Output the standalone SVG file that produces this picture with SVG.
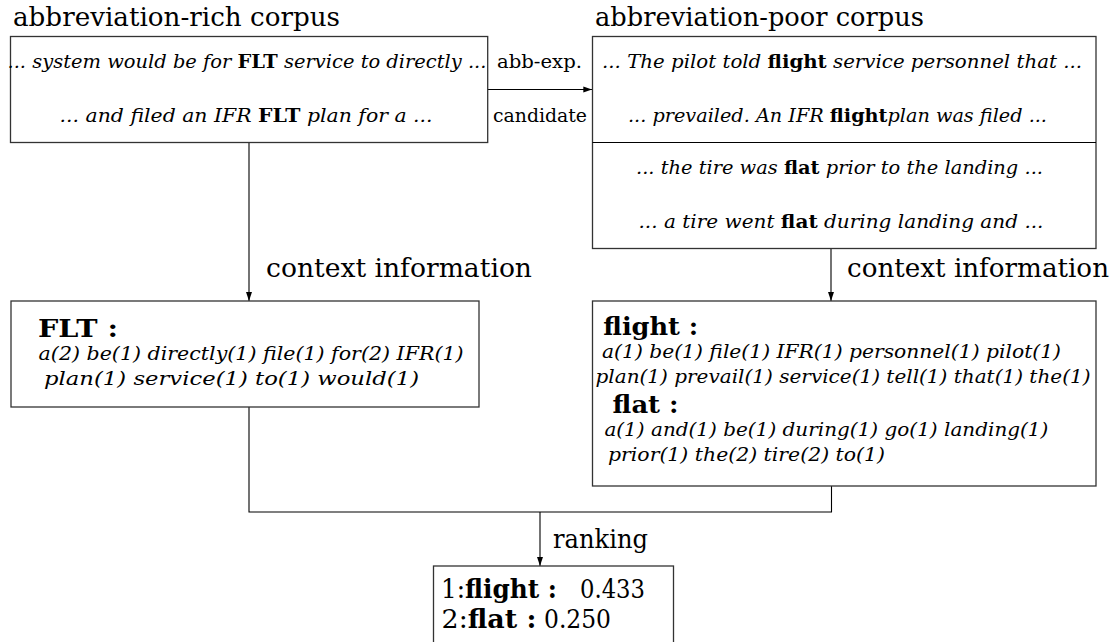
<svg xmlns="http://www.w3.org/2000/svg" width="1117" height="642" viewBox="0 0 1117 642">
<style>
.box{fill:#fff;stroke:#333;stroke-width:1.3}
.conn{fill:none;stroke:#000;stroke-width:1.1}
.t{font-family:"DejaVu Serif","Liberation Serif","Noto Serif",serif;fill:#000}
.lbl{font-size:26px}
.sm{font-size:19px}
.it{font-size:19px;font-style:italic}
.b{font-weight:bold;font-style:normal}
.hd{font-size:25px;font-weight:bold}
.rs{font-size:26px}
</style>
<defs>
<marker id="ah" viewBox="0 0 10 10" refX="10" refY="5" markerWidth="9" markerHeight="9" markerUnits="userSpaceOnUse" orient="auto">
<path d="M0,1.7 L10,5 L0,8.3 z" fill="#000"/>
</marker>
</defs>

<g id="connectors">
<line class="conn" x1="487.7" y1="89.5" x2="592.3" y2="89.5" marker-end="url(#ah)"/>
<line class="conn" x1="249" y1="142.5" x2="249" y2="301" marker-end="url(#ah)"/>
<line class="conn" x1="831" y1="248.5" x2="831" y2="301" marker-end="url(#ah)"/>
<path class="conn" d="M249,407 V512 H831.5 V486"/>
<line class="conn" x1="540" y1="512" x2="540" y2="566" marker-end="url(#ah)"/>
<text class="t sm" x="497" y="68" textLength="85" lengthAdjust="spacingAndGlyphs">abb-exp.</text>
<text class="t sm" x="493" y="122" textLength="94" lengthAdjust="spacingAndGlyphs">candidate</text>
<text class="t lbl" x="266" y="277" textLength="266" lengthAdjust="spacingAndGlyphs">context information</text>
<text class="t lbl" x="847" y="277" textLength="262" lengthAdjust="spacingAndGlyphs">context information</text>
<text class="t lbl" x="553" y="548" textLength="95" lengthAdjust="spacingAndGlyphs">ranking</text>
</g>

<g id="rich-corpus">
<text class="t lbl" x="13" y="26" textLength="327" lengthAdjust="spacingAndGlyphs">abbreviation-rich corpus</text>
<rect class="box" x="10.5" y="36.5" width="477.2" height="106"/>
<text class="t it" x="7.5" y="68" textLength="479" lengthAdjust="spacingAndGlyphs">... system would be for <tspan class="b">FLT</tspan> service to directly ...</text>
<text class="t it" x="59.6" y="122" textLength="373" lengthAdjust="spacingAndGlyphs">... and filed an IFR <tspan class="b">FLT</tspan> plan for a ...</text>
</g>

<g id="poor-corpus">
<text class="t lbl" x="595" y="26" textLength="329" lengthAdjust="spacingAndGlyphs">abbreviation-poor corpus</text>
<rect class="box" x="592.5" y="36.5" width="503.5" height="212"/>
<line class="conn" x1="592.5" y1="142.5" x2="1096" y2="142.5"/>
<text class="t it" x="602" y="68" textLength="480" lengthAdjust="spacingAndGlyphs">... The pilot told <tspan class="b">flight</tspan> service personnel that ...</text>
<text class="t it" x="628" y="122" textLength="419" lengthAdjust="spacingAndGlyphs">... prevailed. An IFR <tspan class="b">flight</tspan>plan was filed ...</text>
<text class="t it" x="636" y="174" textLength="407" lengthAdjust="spacingAndGlyphs">... the tire was <tspan class="b">flat</tspan> prior to the landing ...</text>
<text class="t it" x="638.5" y="228" textLength="405" lengthAdjust="spacingAndGlyphs">... a tire went <tspan class="b">flat</tspan> during landing and ...</text>
</g>

<g id="flt-context">
<rect class="box" x="11" y="301" width="468" height="106"/>
<text class="t hd" x="38" y="337" textLength="80" lengthAdjust="spacingAndGlyphs">FLT :</text>
<text class="t it" x="38.6" y="360" textLength="425" lengthAdjust="spacingAndGlyphs">a(2) be(1) directly(1) file(1) for(2) IFR(1)</text>
<text class="t it" x="44" y="385" textLength="375" lengthAdjust="spacingAndGlyphs">plan(1) service(1) to(1) would(1)</text>
</g>

<g id="candidate-context">
<rect class="box" x="592.5" y="301" width="503.5" height="185"/>
<text class="t hd" x="603.3" y="335" textLength="95" lengthAdjust="spacingAndGlyphs">flight :</text>
<text class="t it" x="602" y="358" textLength="459" lengthAdjust="spacingAndGlyphs">a(1) be(1) file(1) IFR(1) personnel(1) pilot(1)</text>
<text class="t it" x="595.5" y="383" textLength="495" lengthAdjust="spacingAndGlyphs">plan(1) prevail(1) service(1) tell(1) that(1) the(1)</text>
<text class="t hd" x="612.6" y="413" textLength="66" lengthAdjust="spacingAndGlyphs">flat :</text>
<text class="t it" x="604.4" y="436" textLength="444" lengthAdjust="spacingAndGlyphs">a(1) and(1) be(1) during(1) go(1) landing(1)</text>
<text class="t it" x="608" y="461" textLength="277" lengthAdjust="spacingAndGlyphs">prior(1) the(2) tire(2) to(1)</text>
</g>

<g id="ranking-result">
<rect class="box" x="433.5" y="566" width="240" height="90"/>
<text class="t rs" x="441" y="598" textLength="116" lengthAdjust="spacingAndGlyphs">1:<tspan class="b">flight :</tspan></text>
<text class="t rs" x="580" y="598" textLength="65" lengthAdjust="spacingAndGlyphs">0.433</text>
<text class="t rs" x="441.5" y="628" textLength="95" lengthAdjust="spacingAndGlyphs">2:<tspan class="b">flat :</tspan></text>
<text class="t rs" x="544" y="628" textLength="67" lengthAdjust="spacingAndGlyphs">0.250</text>
</g>
</svg>
